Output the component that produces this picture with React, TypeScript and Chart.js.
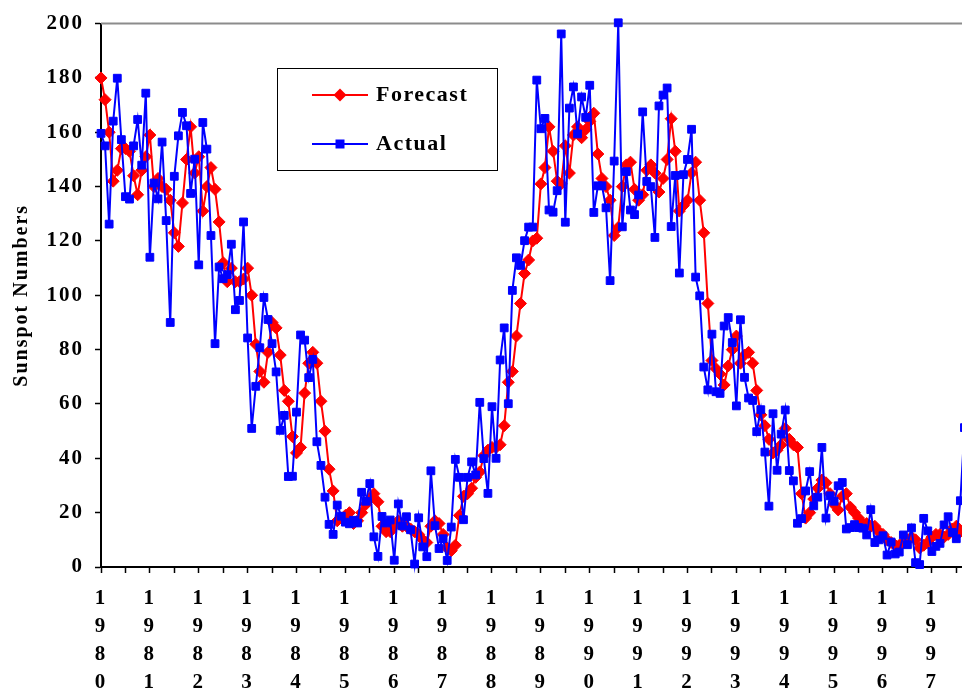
import React, { useEffect, useRef } from 'react';
import { Chart, registerables } from 'chart.js';
Chart.register(...registerables);

// Monthly values, January 1980 onward
const actual: number[] = [
  159.6, 155.0, 126.2, 164.1, 179.9, 157.3, 136.3, 135.4, 155.0, 164.7, 147.9, 174.4,
  114.0, 141.3, 135.5, 156.4, 127.5, 90.0, 143.8, 158.7, 167.3, 162.4, 137.5, 150.1,
  111.2, 163.6, 153.8, 122.0, 82.2, 110.4, 106.1, 107.6, 118.8, 94.7, 98.1, 127.0,
  84.3, 51.0, 66.5, 80.7, 99.2, 91.1, 82.2, 71.8, 50.3, 55.8, 33.3, 33.4,
  57.0, 85.4, 83.5, 69.7, 76.4, 46.1, 37.4, 25.7, 15.7, 12.0, 22.8, 18.7,
  16.5, 15.9, 17.2, 16.2, 27.5, 24.2, 30.7, 11.1, 3.9, 18.6, 16.2, 17.3,
  2.5, 23.2, 15.1, 18.5, 13.7, 1.1, 18.1, 7.4, 3.8, 35.4, 15.2, 6.8,
  10.4, 2.4, 14.7, 39.6, 33.0, 17.4, 33.0, 38.7, 33.9, 60.6, 39.9, 27.1,
  59.0, 40.0, 76.2, 88.0, 60.1, 101.8, 113.8, 111.0, 120.1, 125.1, 125.1, 179.2,
  161.3, 165.1, 131.4, 130.6, 138.5, 196.2, 126.9, 168.9, 176.7, 159.4, 173.0, 165.5,
  177.3, 130.5, 140.3, 140.3, 132.2, 105.4, 149.4, 200.3, 125.2, 145.5, 131.4, 129.7,
  136.9, 167.5, 141.9, 140.0, 121.3, 169.7, 173.7, 176.3, 125.3, 144.1, 108.2, 144.4,
  150.0, 161.1, 106.7, 99.8, 73.6, 65.2, 85.7, 64.5, 63.9, 88.7, 91.8, 82.6,
  59.3, 91.0, 69.8, 62.2, 61.3, 49.8, 57.9, 42.3, 22.4, 56.4, 35.6, 48.9,
  57.8, 35.5, 31.7, 16.1, 17.8, 28.0, 35.1, 22.5, 25.7, 44.0, 18.0, 26.2,
  24.2, 29.9, 31.1, 14.0, 14.5, 15.6, 14.5, 14.3, 11.8, 21.1, 9.0, 10.0,
  11.5, 4.4, 9.2, 4.8, 5.5, 11.8, 8.2, 14.4, 1.6, 0.9, 17.9, 13.3,
  5.7, 7.6, 8.7, 15.5, 18.5, 12.7, 10.4, 24.4, 51.3,
];

const forecast: number[] = [
  180, 172, 160, 142, 146, 154, 154, 153, 144, 137, 146, 151,
  159, 140, 143, 140, 139, 135, 123, 118, 134, 150, 162, 145,
  151, 131, 140, 147, 139, 127, 112, 105, 110, 105, 105, 106,
  110, 100, 82, 72, 68, 79, 90, 88, 78, 65, 61, 48,
  42, 44, 64, 75, 79, 75, 61, 50, 36, 28, 17, 18,
  19, 20, 16, 17, 20, 23, 25, 27, 24, 15, 13, 13,
  15, 17, 15, 15, 14, 13, 12, 10, 9, 15, 17, 16,
  12, 7, 6, 8, 19, 26, 27, 29, 33, 35, 41, 43,
  44, 44, 45, 52, 68, 72, 85, 97, 108, 113, 120, 121,
  141, 147, 162, 153, 142, 141, 155, 145, 159, 162, 158, 161,
  164, 167, 152, 143, 140, 135, 122, 125, 140, 148, 149, 139,
  135, 137, 146, 148, 145, 138, 143, 150, 165, 153, 131, 133,
  135, 145, 149, 135, 123, 97, 76, 73, 71, 67, 74, 80,
  85, 75, 78, 79, 75, 65, 56, 52, 47, 42, 43, 45,
  51, 47, 45, 44, 27, 18, 20, 25, 29, 32, 31, 27,
  23, 21, 26, 27, 22, 20, 18, 16, 16, 15, 15, 13,
  12, 10, 9, 8, 8, 9, 10, 11, 10, 7, 8, 9,
  11, 12, 12, 11, 12, 14, 15, 13,
];

const yearLabels: string[] = [
  '1980', '1981', '1982', '1983', '1984', '1985', '1986', '1987', '1988',
  '1989', '1990', '1991', '1992', '1993', '1994', '1995', '1996', '1997',
];
const seriesNames: string[] = ['Forecast', 'Actual'];
const yAxisTitle = 'Sunspot Numbers';

const FONT = '"Liberation Serif", "Times New Roman", serif';

export default function App() {
  const ref = useRef<HTMLCanvasElement>(null);

  useEffect(() => {
    if (!ref.current) return;

    const decor = {
      id: 'decor',
      beforeDraw(chart: any) {
        (chart.ctx as any).letterSpacing = '2px';
      },
      beforeDatasetsDraw(chart: any) {
        const { ctx, chartArea } = chart;
        (ctx as any).letterSpacing = '0px';
        ctx.save();
        ctx.strokeStyle = '#8c8c8c';
        ctx.lineWidth = 2;
        ctx.beginPath();
        ctx.moveTo(chartArea.left, chartArea.top);
        ctx.lineTo(chartArea.right, chartArea.top);
        ctx.stroke();
        ctx.restore();
      },
      afterDraw(chart: any) {
        const { ctx } = chart;
        ctx.save();
        // legend box
        ctx.fillStyle = '#ffffff';
        ctx.fillRect(277, 68, 221, 103);
        ctx.strokeStyle = '#000';
        ctx.lineWidth = 1;
        ctx.strokeRect(277.5, 68.5, 220, 102);
        const rows = [
          { name: seriesNames[0], color: '#FF0000', y: 95, shape: 'diamond' },
          { name: seriesNames[1], color: '#0000FF', y: 144, shape: 'square' },
        ];
        rows.forEach((r) => {
          ctx.strokeStyle = r.color;
          ctx.lineWidth = 2;
          ctx.beginPath();
          ctx.moveTo(312, r.y);
          ctx.lineTo(368, r.y);
          ctx.stroke();
          ctx.fillStyle = r.color;
          ctx.beginPath();
          if (r.shape === 'diamond') {
            ctx.moveTo(340 - 6.5, r.y);
            ctx.lineTo(340, r.y - 6.5);
            ctx.lineTo(340 + 6.5, r.y);
            ctx.lineTo(340, r.y + 6.5);
            ctx.closePath();
          } else {
            ctx.rect(340 - 4.5, r.y - 4.5, 9, 9);
          }
          ctx.fill();
          ctx.fillStyle = '#000';
          ctx.font = `bold 22px ${FONT}`;
          (ctx as any).letterSpacing = '1.5px';
          ctx.textBaseline = 'middle';
          ctx.textAlign = 'left';
          ctx.fillText(r.name, 376, r.y);
        });
        ctx.restore();
      },
    };

    const chart = new Chart(ref.current, {
      type: 'line',
      data: {
        datasets: [
          {
            label: seriesNames[1],
            data: actual.map((v, i) => ({ x: i, y: v })),
            borderColor: '#0000FF',
            backgroundColor: '#0000FF',
            borderWidth: 2,
            pointStyle: 'rect',
            pointRadius: 5.5,
            pointBorderWidth: 1,
            pointBackgroundColor: '#0000FF',
            pointBorderColor: '#0000FF',
            tension: 0,
            clip: false,
            order: 1,
          },
          {
            label: seriesNames[0],
            data: forecast.map((v, i) => ({ x: i, y: v })),
            borderColor: '#FF0000',
            backgroundColor: '#FF0000',
            borderWidth: 2,
            pointStyle: 'rectRot',
            pointRadius: 6,
            pointBorderWidth: 1,
            pointBackgroundColor: '#FF0000',
            pointBorderColor: '#FF0000',
            tension: 0,
            clip: false,
            order: 2,
          },
        ],
      } as any,
      options: {
        animation: false,
        responsive: true,
        maintainAspectRatio: false,
        layout: { autoPadding: false, padding: { top: 20, left: 0, right: 0, bottom: 0 } },
        plugins: { legend: { display: false }, tooltip: { enabled: false } },
        scales: {
          x: {
            type: 'linear',
            min: 0,
            max: 211.4,
            afterFit: (s: any) => {
              s.height = 128;
              s.paddingRight = 0;
              s.paddingLeft = 0;
            },
            grid: { drawOnChartArea: false, drawTicks: true, tickLength: 6, tickColor: '#000', tickWidth: 1.5 },
            border: { color: '#000', width: 2 },
            ticks: {
              stepSize: 6,
              includeBounds: false,
              autoSkip: false,
              maxRotation: 0,
              minRotation: 0,
              padding: 11,
              color: '#000',
              font: { family: FONT, size: 21, weight: 'bold', lineHeight: 28.3 / 21 },
              callback: (v: any) => {
                const n = Number(v);
                if (n % 12 === 0 && yearLabels[n / 12]) return yearLabels[n / 12].split('');
                return '';
              },
            },
          },
          y: {
            min: 0,
            max: 200,
            afterFit: (s: any) => {
              s.width = 101;
            },
            grid: { drawOnChartArea: false, drawTicks: true, tickLength: 6, tickColor: '#000', tickWidth: 1.5 },
            border: { color: '#000', width: 2 },
            ticks: {
              stepSize: 20,
              padding: 11,
              color: '#000',
              font: { family: FONT, size: 21, weight: 'bold' },
            },
            title: {
              display: true,
              text: yAxisTitle,
              color: '#000',
              font: { family: FONT, size: 20, weight: 'bold' },
              padding: { top: 10, bottom: 0 },
            },
          },
        },
      } as any,
      plugins: [decor],
    });
    return () => chart.destroy();
  }, []);

  return (
    <div style={{ position: 'fixed', left: 0, top: 0, width: 962, height: 695, background: '#fff' }}>
      <canvas ref={ref} />
    </div>
  );
}
